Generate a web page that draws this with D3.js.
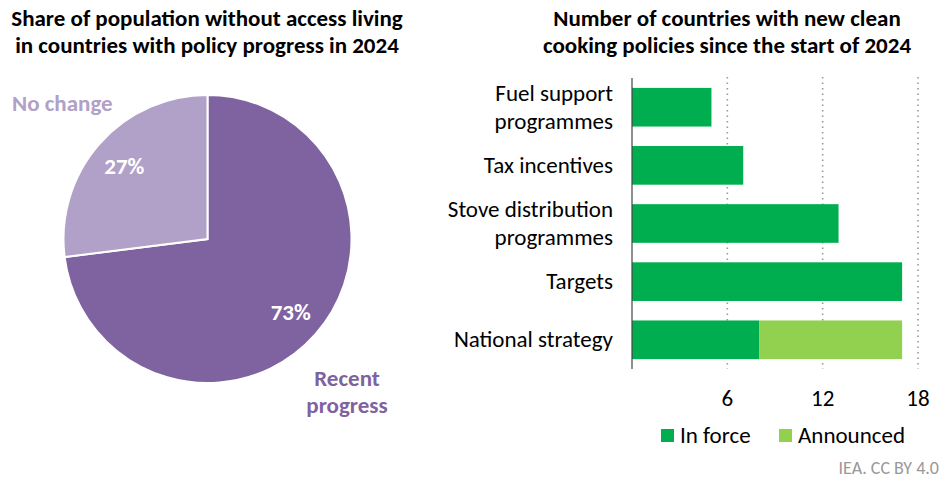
<!DOCTYPE html>
<html>
<head>
<meta charset="utf-8">
<script src="https://cdn.jsdelivr.net/npm/d3@7"></script>
<style>
  html, body { margin: 0; padding: 0; background: #fff; }
  svg { display: block; font-family: Carlito, Calibri, "Open Sans", sans-serif; }
</style>
</head>
<body>
<svg id="chart" width="941" height="480"></svg>
<script>
// Pie: share of population without access
const pieLabels = ["Recent progress", "No change"];
const pieValues = [73, 27];
const pieColors = ["#7F63A0", "#B1A0C7"];

// Bars: countries with new clean cooking policies
const categories = ["Fuel support programmes", "Tax incentives", "Stove distribution programmes", "Targets", "National strategy"];
const categoryLines = [["Fuel support", "programmes"], ["Tax incentives"], ["Stove distribution", "programmes"], ["Targets"], ["National strategy"]];
const inForce = [5, 7, 13, 17, 8];
const announced = [0, 0, 0, 0, 9];
const seriesNames = ["In force", "Announced"];
const seriesColors = ["#00AE4F", "#92D050"];
const xTicks = [6, 12, 18];

const svg = d3.select("#chart");
const FS = 23;   // body text size
const TS = 23;   // title size

// ---- Titles ----
const leftTitle = ["Share of population without access living", "in countries with policy progress in 2024"];
const rightTitle = ["Number of countries with new clean", "cooking policies since the start of 2024"];
function title(lines, cx) {
  svg.append("text").attr("text-anchor", "middle")
    .attr("font-size", TS).attr("font-weight", "bold").attr("fill", "#000")
    .selectAll("tspan").data(lines).join("tspan")
    .attr("x", cx).attr("y", (d, i) => 26 + i * 27).text(d => d);
}
title(leftTitle, 207);
title(rightTitle, 727);

// ---- Pie ----
const cx = 207.5, cy = 239, r = 144;
const pie = d3.pie().sort(null).value(d => d)(pieValues);
const arc = d3.arc().innerRadius(0).outerRadius(r);
const gPie = svg.append("g").attr("transform", `translate(${cx},${cy})`);
gPie.selectAll("path").data(pie).join("path")
  .attr("d", arc)
  .attr("fill", (d, i) => pieColors[i])
  .attr("stroke", "#fff").attr("stroke-width", 2);

// Percent labels inside slices
const pctArc = d3.arc().innerRadius(r * 0.77).outerRadius(r * 0.77);
gPie.selectAll("text.pct").data(pie).join("text")
  .attr("class", "pct")
  .attr("transform", d => {
    const [x, y] = pctArc.centroid(d);
    return `translate(${x},${y})`;
  })
  .attr("text-anchor", "middle").attr("dy", "0.35em")
  .attr("font-size", FS).attr("font-weight", "bold").attr("fill", "#fff")
  .text(d => d.data + "%");

// Category labels outside slices
svg.append("text").attr("x", 12).attr("y", 111)
  .attr("font-size", FS).attr("font-weight", "bold").attr("fill", pieColors[1])
  .text("No change");
svg.append("text").attr("text-anchor", "middle")
  .attr("font-size", FS).attr("font-weight", "bold").attr("fill", pieColors[0])
  .selectAll("tspan").data(["Recent", "progress"]).join("tspan")
  .attr("x", 347).attr("y", (d, i) => 386 + i * 27).text(d => d);

// ---- Bars ----
const x0 = 632;
const x = d3.scaleLinear().domain([0, 18]).range([x0, 918]);
const y = d3.scaleBand().domain(categories).range([78, 369]).paddingInner(0.335).paddingOuter(0.17);

// Dotted gridlines
svg.append("g").selectAll("line").data(xTicks).join("line")
  .attr("x1", d => x(d)).attr("x2", d => x(d))
  .attr("y1", 77).attr("y2", 369)
  .attr("stroke", "#999").attr("stroke-width", 1.6)
  .attr("stroke-dasharray", "1.6 3.9");

const stacked = categories.map((c, i) => ({ c, v: [inForce[i], announced[i]] }));
const gBars = svg.append("g");
stacked.forEach(d => {
  let acc = 0;
  d.v.forEach((v, k) => {
    if (v > 0) {
      gBars.append("rect")
        .attr("x", x(acc)).attr("width", x(acc + v) - x(acc))
        .attr("y", y(d.c)).attr("height", y.bandwidth())
        .attr("fill", seriesColors[k]);
    }
    acc += v;
  });
});

// Vertical axis line
svg.append("line").attr("x1", x0).attr("x2", x0).attr("y1", 78).attr("y2", 369)
  .attr("stroke", "#444").attr("stroke-width", 1.2);

// Category labels
categories.forEach((c, i) => {
  const lines = categoryLines[i];
  const yc = y(c) + y.bandwidth() / 2;
  const lh = 28;
  svg.append("text").attr("text-anchor", "end").attr("font-size", FS).attr("fill", "#000")
    .selectAll("tspan").data(lines).join("tspan")
    .attr("x", 613)
    .attr("y", (d, j) => yc + (j - (lines.length - 1) / 2) * lh)
    .attr("dy", "0.33em")
    .text(d => d);
});

// X tick labels
svg.append("g").selectAll("text").data(xTicks).join("text")
  .attr("x", d => x(d)).attr("y", 398).attr("dy", "0.33em")
  .attr("text-anchor", "middle").attr("font-size", FS).attr("fill", "#000")
  .text(d => d);

// Legend
const legendX = [661, 779];
const gLeg = svg.append("g");
seriesNames.forEach((n, i) => {
  gLeg.append("rect").attr("x", legendX[i]).attr("y", 429).attr("width", 13).attr("height", 13)
    .attr("fill", seriesColors[i]);
  gLeg.append("text").attr("x", legendX[i] + 19).attr("y", 435).attr("dy", "0.33em")
    .attr("font-size", FS).attr("fill", "#000").text(n);
});

// Source note
svg.append("text").attr("x", 939).attr("y", 468).attr("dy", "0.33em")
  .attr("text-anchor", "end").attr("font-size", 18).attr("fill", "#999")
  .text("IEA. CC BY 4.0");
</script>
</body>
</html>
